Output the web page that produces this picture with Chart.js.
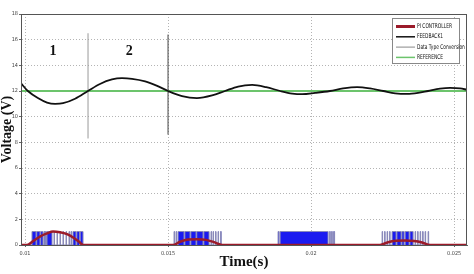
<!DOCTYPE html>
<html>
<head>
<meta charset="utf-8">
<script src="https://cdn.jsdelivr.net/npm/chart.js@4"></script>
<style>
  html, body { margin: 0; padding: 0; background: #fff; }
  #wrap { width: 474px; height: 274px; position: relative; }
</style>
</head>
<body>
<div id="wrap"><canvas id="chartVoltage"></canvas></div>
<script>
// tick labels
const timeTicks = [0.01, 0.015, 0.02, 0.025];
const timeTickLabels = ["0.01", "0.015", "0.02", "0.025"];
const voltageTicks = [0, 2, 4, 6, 8, 10, 12, 14, 16, 18];

// FEEDBACK1
const feedbackTime = [0.00986, 0.01010, 0.01045, 0.01077, 0.01105, 0.01133, 0.01175, 0.01220, 0.01262, 0.01304,
    0.01339, 0.01374, 0.01420, 0.01462, 0.01500, 0.01549, 0.01601, 0.01654, 0.01699, 0.01745,
    0.01794, 0.01843, 0.01892, 0.01934, 0.01969, 0.02014, 0.02066, 0.02112, 0.02161, 0.02206,
    0.02252, 0.02294, 0.02336, 0.02374, 0.02409, 0.02451, 0.02486, 0.02521, 0.02545];
const feedbackVolt = [12.6, 12.0, 11.45, 11.1, 11.0, 11.05, 11.4, 12.0, 12.55, 12.9,
    13.0, 12.95, 12.75, 12.4, 12.0, 11.6, 11.45, 11.65, 12.0, 12.35,
    12.47, 12.3, 12.0, 11.8, 11.75, 11.85, 12.0, 12.2, 12.3, 12.2,
    12.0, 11.82, 11.77, 11.85, 12.0, 12.18, 12.24, 12.2, 12.1];

// PI CONTROLLER
const piTime = [0.00986, 0.01007, 0.01028, 0.01052, 0.01077, 0.01098, 0.01122, 0.01147, 0.01171, 0.01189, 0.01203,
    0.01517, 0.01542, 0.01570, 0.01601, 0.01633, 0.01661, 0.01689,
    0.02241, 0.02269, 0.02297, 0.02329, 0.02360, 0.02388, 0.02416, 0.02545];
const piVolt = [0, 0, 0.3, 0.65, 0.9, 1.05, 1.0, 0.85, 0.55, 0.25, 0,
    0, 0.25, 0.42, 0.45, 0.4, 0.22, 0,
    0, 0.22, 0.33, 0.35, 0.32, 0.2, 0, 0];

// Data Type Conversion: [start, end] of each high pulse
const pulseOn = [
    [0.010245, 0.010385], [0.010409, 0.010524], [0.010549, 0.010629], [0.010664, 0.010692],
    [0.010717, 0.010745], [0.010769, 0.010944], [0.011014, 0.011031], [0.011119, 0.011136],
    [0.011224, 0.011238], [0.011329, 0.011343], [0.011434, 0.011451], [0.011538, 0.011556],
    [0.011608, 0.011629], [0.011678, 0.011783], [0.011811, 0.011906], [0.011930, 0.012028],
    [0.015210, 0.015227], [0.015280, 0.015301], [0.015350, 0.015559], [0.015587, 0.015769],
    [0.015797, 0.015979], [0.016003, 0.016224], [0.016252, 0.016434], [0.016503, 0.016521],
    [0.016573, 0.016591], [0.016661, 0.016678], [0.016748, 0.016766], [0.016836, 0.016860],
    [0.018846, 0.018881], [0.018916, 0.020594], [0.020647, 0.020671], [0.020717, 0.020741],
    [0.020787, 0.020822],
    [0.022483, 0.022500], [0.022570, 0.022587], [0.022657, 0.022675], [0.022745, 0.022762],
    [0.022832, 0.022972], [0.023000, 0.023147], [0.023175, 0.023252], [0.023287, 0.023427],
    [0.023455, 0.023566], [0.023636, 0.023654], [0.023724, 0.023741], [0.023811, 0.023829],
    [0.023899, 0.023916], [0.023986, 0.024004], [0.024091, 0.024109]
];
const pulseHigh = 1.05;

const referenceVolt = 12;

// region dividers and labels
const dividerTime = [0.012203, 0.015000];
const dividerLow = [8.3, 8.6];
const dividerHigh = [16.5, 16.4];
const regionNames = ["1", "2"];
const regionTime = [0.01098, 0.01364];
const regionVolt = 15.1;

const xMin = 0.00986, xMax = 0.02545;

document.addEventListener("DOMContentLoaded", () => {
    const ctx = document.getElementById('chartVoltage');
    if (!ctx) return;

    const pts = (xs, ys) => xs.map((x, i) => ({ x: x, y: ys[i] }));

    // stepped pulse train
    const pulseData = [{ x: xMin, y: 0 }];
    pulseOn.forEach(p => {
        pulseData.push({ x: p[0], y: pulseHigh });
        pulseData.push({ x: p[1], y: 0 });
    });
    pulseData.push({ x: xMax, y: 0 });

    const serif = '"Liberation Serif", "Times New Roman", serif';
    const narrow = '"Liberation Sans Narrow", "DejaVu Sans Condensed", Arial, sans-serif';

    const legendBox = {
        id: 'legendBox',
        afterDraw(chart) {
            const c = chart.ctx;
            const area = chart.chartArea;
            const xs = chart.scales.x, ys = chart.scales.y;

            // plot frame
            c.save();
            c.strokeStyle = '#555';
            c.lineWidth = 1;
            c.strokeRect(area.left + 0.5, area.top + 0.5, area.right - area.left - 1, area.bottom - area.top);

            // region numbers
            c.fillStyle = '#111';
            c.font = 'bold 14px ' + serif;
            c.textAlign = 'center';
            c.textBaseline = 'middle';
            regionNames.forEach((n, i) => {
                c.fillText(n, xs.getPixelForValue(regionTime[i]), ys.getPixelForValue(regionVolt));
            });

            // legend
            const bx = 392.5, by = 18.5, bw = 67, bh = 45;
            c.fillStyle = '#fff';
            c.fillRect(bx, by, bw, bh);
            c.strokeStyle = '#888';
            c.strokeRect(bx, by, bw, bh);
            const items = chart.data.datasets.filter(d => d.inLegend);
            items.forEach((d, i) => {
                const y = 26.5 + i * 10.3;
                c.strokeStyle = d.legendColor || d.borderColor;
                c.lineWidth = d.legendWidth;
                c.beginPath();
                c.moveTo(396, y);
                c.lineTo(415, y);
                c.stroke();
                c.save();
                c.translate(417, y);
                c.scale(0.75, 1);
                c.fillStyle = '#111';
                c.font = '6.5px ' + narrow;
                c.textAlign = 'left';
                c.textBaseline = 'middle';
                c.fillText(d.label, 0, 0);
                c.restore();
            });
            c.restore();
        }
    };

    const datasets = [
        {
            label: 'PI CONTROLLER',
            data: pts(piTime, piVolt),
            borderColor: '#9b1b2a',
            borderWidth: 2.5,
            cubicInterpolationMode: 'monotone',
            inLegend: true,
            legendWidth: 3
        },
        {
            label: 'FEEDBACK1',
            data: pts(feedbackTime, feedbackVolt),
            borderColor: '#111',
            borderWidth: 1.8,
            cubicInterpolationMode: 'monotone',
            inLegend: true,
            legendWidth: 1.5
        },
        {
            label: 'Data Type Conversion',
            data: pulseData,
            stepped: true,
            borderColor: '#8a8ab8',
            borderWidth: 1,
            backgroundColor: '#1a1af0',
            fill: 'origin',
            inLegend: true,
            legendColor: '#888',
            legendWidth: 1
        },
        {
            label: 'REFERENCE',
            data: [{ x: xMin, y: referenceVolt }, { x: xMax, y: referenceVolt }],
            borderColor: '#6cc46c',
            borderWidth: 2,
            inLegend: true,
            legendWidth: 1.5
        }
    ];

    dividerTime.forEach((t, i) => {
        datasets.push({
            label: 'divider' + (i + 1),
            data: [{ x: t, y: dividerLow[i] }, { x: t, y: dividerHigh[i] }],
            borderColor: i === 0 ? '#999' : '#444',
            borderWidth: 1,
            inLegend: false
        });
    });

    new Chart(ctx, {
        type: 'line',
        data: { datasets: datasets },
        options: {
            responsive: true,
            maintainAspectRatio: false,
            animation: false,
            layout: { padding: { left: 0, top: 14, right: 7, bottom: 0 } },
            elements: { point: { radius: 0 } },
            plugins: {
                legend: { display: false },
                tooltip: { enabled: false }
            },
            scales: {
                x: {
                    type: 'linear',
                    min: xMin,
                    max: xMax,
                    afterBuildTicks: (s) => { s.ticks = timeTicks.map(v => ({ value: v })); },
                    afterFit: (s) => { s.height = 29; },
                    ticks: {
                        callback: (v, i) => timeTickLabels[i],
                        font: { family: narrow, size: 5.5 },
                        color: '#444',
                        padding: 3,
                        maxRotation: 0
                    },
                    grid: { color: '#b4b4b4', tickLength: 2, tickColor: '#666' },
                    border: { color: '#666', dash: [1, 2] },
                    title: {
                        display: true,
                        text: 'Time(s)',
                        font: { family: serif, size: 15, weight: 'bold' },
                        color: '#111',
                        padding: { top: 0, bottom: 3 }
                    }
                },
                y: {
                    min: 0,
                    max: 18,
                    afterBuildTicks: (s) => { s.ticks = voltageTicks.map(v => ({ value: v })); },
                    afterFit: (s) => { s.width = 21; },
                    ticks: {
                        font: { family: narrow, size: 5.5 },
                        color: '#444',
                        padding: 1
                    },
                    grid: { color: '#b4b4b4', tickLength: 2, tickColor: '#666' },
                    border: { color: '#666', dash: [1, 2] },
                    title: {
                        display: true,
                        text: 'Voltage (V)',
                        font: { family: serif, size: 14, weight: 'bold', lineHeight: 1 },
                        color: '#111',
                        padding: { top: 0, bottom: 0 }
                    }
                }
            }
        },
        plugins: [legendBox]
    });
});
</script>
</body>
</html>
